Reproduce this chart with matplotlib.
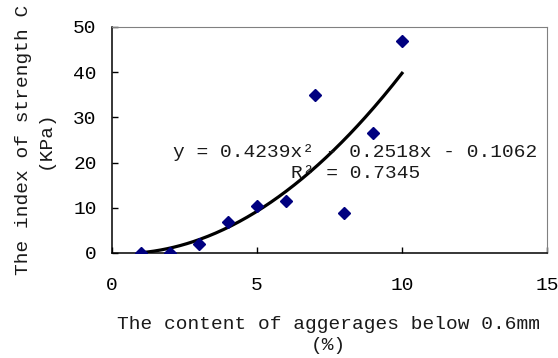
import numpy as np
import matplotlib
matplotlib.use("Agg")
import matplotlib.pyplot as plt

# measured points: aggregate content below 0.6 mm (%) vs strength index C (KPa)
content = [1, 2, 3, 4, 5, 6, 7, 8, 9, 10]
strength = [0.0, 0.0, 2.1, 6.8, 10.4, 11.5, 35.0, 8.9, 26.5, 46.9]

# second order trendline as reported on the chart
coef = [0.4239, -0.2518, -0.1062]
r_squared = 0.7345

x_ticks = [0, 5, 10, 15]
y_ticks = [0, 10, 20, 30, 40, 50]

plt.rcParams['font.family'] = ['Liberation Mono', 'DejaVu Sans']
plt.rcParams['font.size'] = 14

fig = plt.figure(figsize=(5.58, 3.58), dpi=100)
ax = fig.add_axes([0.2007, 0.2933, 0.7796, 0.6313])

xs = np.linspace(content[0], content[-1], 200)
ax.plot(xs, np.polyval(coef, xs), color="black", lw=2.3, zorder=2)
ax.plot(content, strength, linestyle="none", marker="D", ms=5.8,
        color="#000080", mec="#000080", zorder=3)

ax.set_xlim(0, 15)
ax.set_ylim(0, 50)
ax.set_xticks(x_ticks)
ax.set_yticks(y_ticks)
ax.tick_params(direction="in", length=4.5, width=1, colors="black")
ax.tick_params(axis="y", pad=11)
ax.tick_params(axis="x", pad=17)

for side in ("top", "right"):
    ax.spines[side].set_color("#808080")
for side in ("left", "bottom"):
    ax.spines[side].set_color("black")
    ax.spines[side].set_linewidth(1.1)

eq = "y = %.4fx² - %.4fx - %.4f\nR² = %.4f" % (coef[0], -coef[1], -coef[2], r_squared)
ax.text(8.4, 20.0, eq, ha="center", va="center", linespacing=1.3,
        color="#1a1a1a")

fig.text(0.061, 0.609, "The index of strength C\n(KPa)", rotation=90,
         ha="center", va="center", multialignment="center", linespacing=1.35,
         color="#1a1a1a")
fig.text(0.589, 0.063, "The content of aggerages below 0.6mm\n(%)",
         ha="center", va="center", multialignment="center", linespacing=1.3,
         color="#1a1a1a")

fig.savefig("out.png", dpi=100)
